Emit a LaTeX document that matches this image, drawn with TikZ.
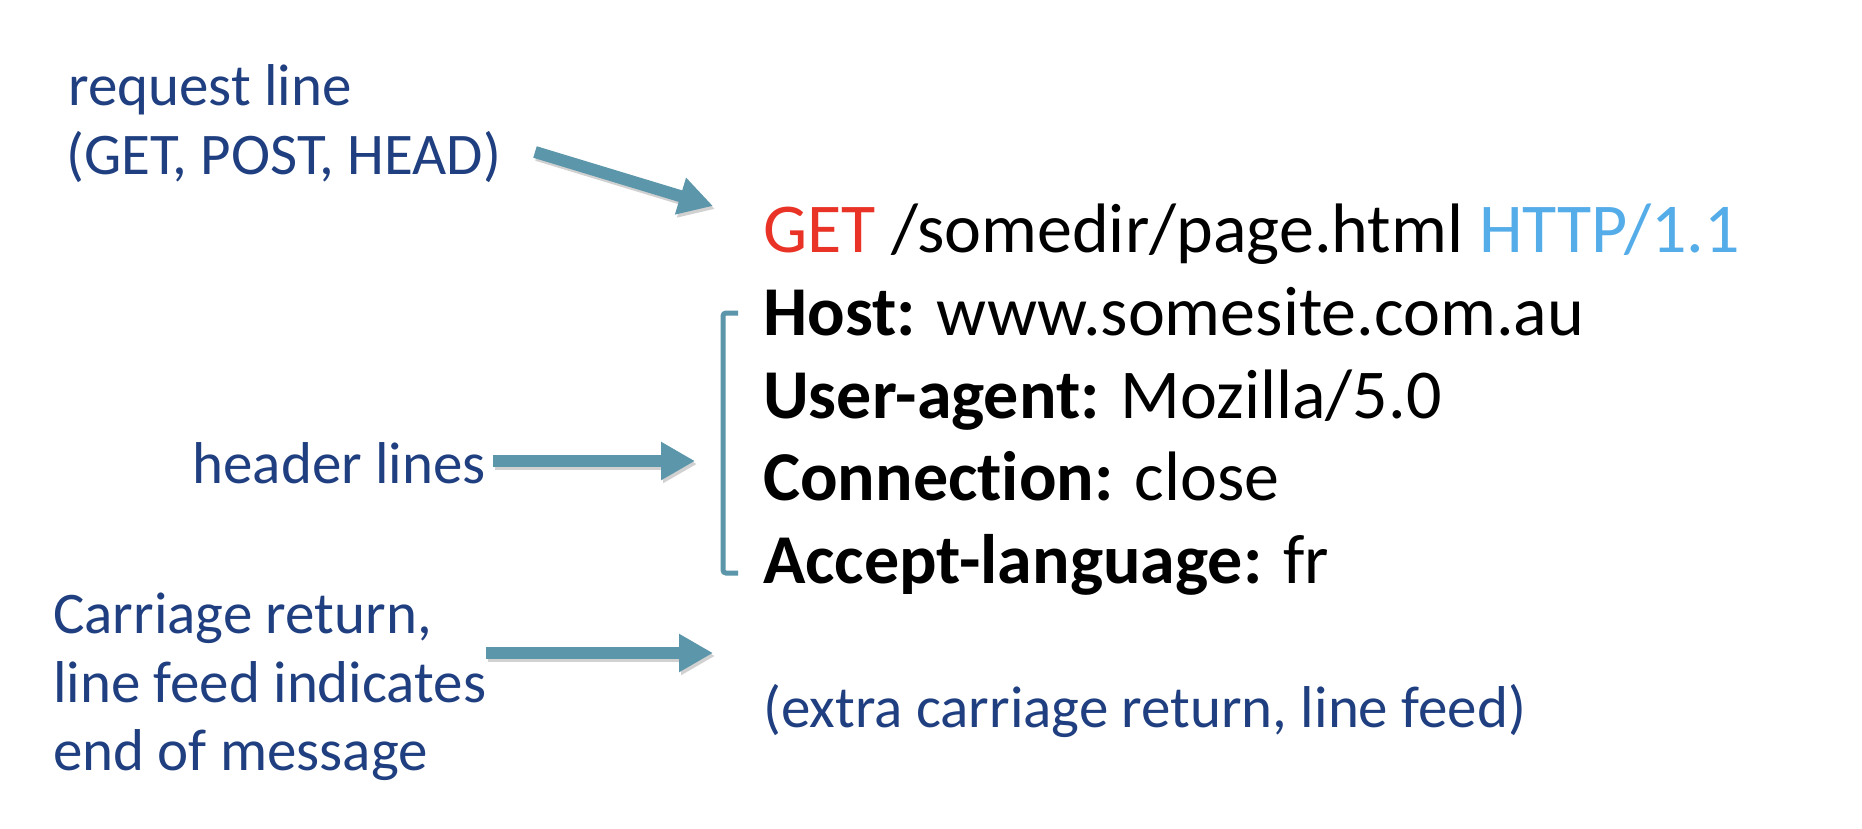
\documentclass[tikz,border=0pt]{standalone}
\usepackage{fontspec}
\setmainfont{Carlito}[Ligatures=NoCommon]
\usetikzlibrary{arrows.meta}
\definecolor{lbl}{RGB}{31,63,128}
\definecolor{arr}{RGB}{91,150,170}
\definecolor{getred}{RGB}{234,51,39}
\definecolor{httpblue}{RGB}{84,172,232}
\begin{document}
\begin{tikzpicture}[x=1pt,y=-1pt,
  lbltext/.style={inner sep=0pt, text=lbl, font=\fontsize{59}{70}\selectfont},
  msgtext/.style={inner sep=0pt, text=black, font=\fontsize{70}{82}\selectfont, anchor=base west},
  bigarrow/.style={arr, line width=12pt, -{Triangle[width=36pt,length=34pt]}},
  arrowshadow/.style={black, opacity=0.18, line width=12pt, -{Triangle[width=36pt,length=34pt]}, transform canvas={xshift=2pt,yshift=-3pt}},
  bracketline/.style={arr, line width=5pt, rounded corners=3pt}
]
\useasboundingbox (0,0) rectangle (1862,828);
\fill[white] (0,0) rectangle (1862,828);

% left labels
\node[lbltext, anchor=base west] (req1) at (68,105) {request line};
\node[lbltext, anchor=base west] (req2) at (66,174) {(GET, POST, HEAD)};
\node[lbltext, anchor=base east] (hdr) at (486,483) {header lines};
\node[lbltext, anchor=base west] (cr1) at (53,633) {Carriage return,};
\node[lbltext, anchor=base west] (cr2) at (53,702) {line feed indicates};
\node[lbltext, anchor=base west] (cr3) at (53,770) {end of message};

% message
\node[msgtext] (l1) at (763,252) {\textcolor{getred}{GET} /somedir/page.html \textcolor{httpblue}{HTTP/1.1}};
\node[msgtext] (l2) at (763,335) {\textbf{Host:} www.somesite.com.au};
\node[msgtext] (l3) at (763,418) {\textbf{User-agent:} Mozilla/5.0};
\node[msgtext] (l4) at (763,500) {\textbf{Connection:} close};
\node[msgtext] (l5) at (763,583) {\textbf{Accept-language:} fr};
\node[lbltext, anchor=base west] (extra) at (763,727) {(extra carriage return, line feed)};

% arrow coordinates
\coordinate (a1s) at (535,152);
\coordinate (a1e) at (713,206);
\coordinate (a2s) at (493,461);
\coordinate (a2e) at (695,461);
\coordinate (a3s) at (486,653);
\coordinate (a3e) at (713,653);

\draw[arrowshadow] (a1s) -- (a1e);
\draw[arrowshadow] (a2s) -- (a2e);
\draw[arrowshadow] (a3s) -- (a3e);
\draw[bigarrow] (a1s) -- (a1e);
\draw[bigarrow] (a2s) -- (a2e);
\draw[bigarrow] (a3s) -- (a3e);

% bracket
\coordinate (bt) at (738,313);
\coordinate (bb) at (738,573);
\draw[bracketline] (bt) -- (723,313) -- (723,573) -- (bb);
\end{tikzpicture}
\end{document}
